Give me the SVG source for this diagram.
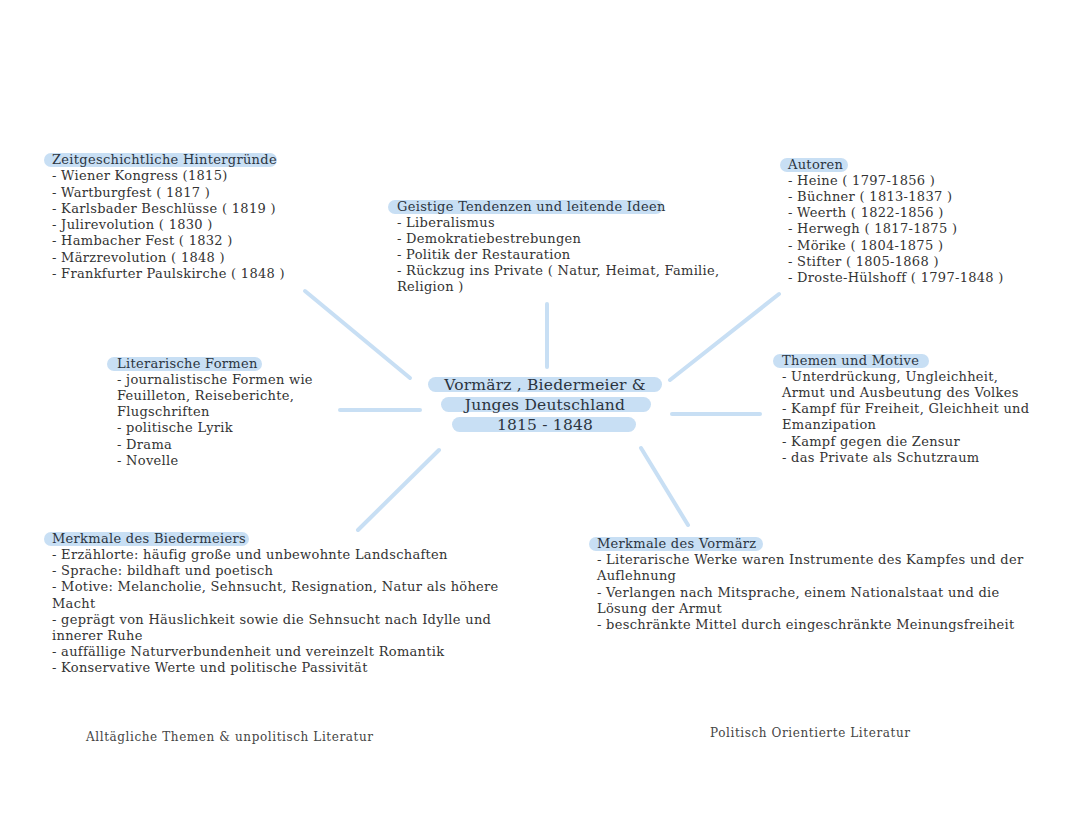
<svg xmlns="http://www.w3.org/2000/svg" width="1080" height="834" viewBox="0 0 1080 834">
<defs>
<style>
text{font-family:"DejaVu Serif","Liberation Serif",serif;font-size:13px;letter-spacing:0.3px;fill:#333}
.t{fill:#2b3440}
.c{font-size:15.5px;letter-spacing:0.2px;text-anchor:middle;fill:#2b3440}
.f{font-size:12px;letter-spacing:0.6px;fill:#444}
.hl{fill:#c8dff4}
.ln{stroke:#c8dff4;stroke-width:4;stroke-linecap:round;fill:none}
</style>
</defs>
<rect width="1080" height="834" fill="#fff"/>
<g id="connectors">
<line class="ln" x1="305" y1="291" x2="410" y2="378"/>
<line class="ln" x1="547" y1="304" x2="547" y2="367"/>
<line class="ln" x1="779" y1="294" x2="670" y2="380"/>
<line class="ln" x1="340" y1="410" x2="420" y2="410"/>
<line class="ln" x1="672" y1="414" x2="760" y2="414"/>
<line class="ln" x1="439" y1="450" x2="358" y2="530"/>
<line class="ln" x1="641" y1="448" x2="688" y2="525"/>
</g>
<g id="center">
<rect class="hl" x="428" y="377" width="234" height="15" rx="7.5"/>
<rect class="hl" x="441" y="397" width="210" height="15" rx="7.5"/>
<rect class="hl" x="452" y="417" width="184" height="15" rx="7.5"/>
<text class="c" x="545" y="390">Vormärz , Biedermeier &amp;</text>
<text class="c" x="545" y="410">Junges Deutschland</text>
<text class="c" x="545" y="430">1815 - 1848</text>
</g>
<g id="zeitgeschichte">
<rect class="hl" x="44" y="153" width="233" height="14" rx="7"/>
<text class="t" x="52" y="164">Zeitgeschichtliche Hintergründe</text>
<text x="52" y="180">- Wiener Kongress (1815)</text>
<text x="52" y="197">- Wartburgfest ( 1817 )</text>
<text x="52" y="213">- Karlsbader Beschlüsse ( 1819 )</text>
<text x="52" y="229">- Julirevolution ( 1830 )</text>
<text x="52" y="245">- Hambacher Fest ( 1832 )</text>
<text x="52" y="262">- Märzrevolution ( 1848 )</text>
<text x="52" y="278">- Frankfurter Paulskirche ( 1848 )</text>
</g>
<g id="geistige">
<rect class="hl" x="388" y="200" width="275" height="14" rx="7"/>
<text class="t" x="397" y="211">Geistige Tendenzen und leitende Ideen</text>
<text x="397" y="227">- Liberalismus</text>
<text x="397" y="243">- Demokratiebestrebungen</text>
<text x="397" y="259">- Politik der Restauration</text>
<text x="397" y="275">- Rückzug ins Private ( Natur, Heimat, Familie,</text>
<text x="397" y="291">Religion )</text>
</g>
<g id="autoren">
<rect class="hl" x="780" y="158" width="68" height="14" rx="7"/>
<text class="t" x="788" y="169">Autoren</text>
<text x="788" y="185">- Heine ( 1797-1856 )</text>
<text x="788" y="201">- Büchner ( 1813-1837 )</text>
<text x="788" y="217">- Weerth ( 1822-1856 )</text>
<text x="788" y="233">- Herwegh ( 1817-1875 )</text>
<text x="788" y="250">- Mörike ( 1804-1875 )</text>
<text x="788" y="266">- Stifter ( 1805-1868 )</text>
<text x="788" y="282">- Droste-Hülshoff ( 1797-1848 )</text>
</g>
<g id="formen">
<rect class="hl" x="107" y="357" width="155" height="14" rx="7"/>
<text class="t" x="117" y="368">Literarische Formen</text>
<text x="117" y="384">- journalistische Formen wie</text>
<text x="117" y="400">Feuilleton, Reiseberichte,</text>
<text x="117" y="416">Flugschriften</text>
<text x="117" y="432">- politische Lyrik</text>
<text x="117" y="449">- Drama</text>
<text x="117" y="465">- Novelle</text>
</g>
<g id="themen">
<rect class="hl" x="773" y="354" width="156" height="14" rx="7"/>
<text class="t" x="782" y="365">Themen und Motive</text>
<text x="782" y="381">- Unterdrückung, Ungleichheit,</text>
<text x="782" y="397">Armut und Ausbeutung des Volkes</text>
<text x="782" y="413">- Kampf für Freiheit, Gleichheit und</text>
<text x="782" y="429">Emanzipation</text>
<text x="782" y="446">- Kampf gegen die Zensur</text>
<text x="782" y="462">- das Private als Schutzraum</text>
</g>
<g id="biedermeier">
<rect class="hl" x="44" y="532" width="205" height="14" rx="7"/>
<text class="t" x="52" y="543">Merkmale des Biedermeiers</text>
<text x="52" y="559">- Erzählorte: häufig große und unbewohnte Landschaften</text>
<text x="52" y="575">- Sprache: bildhaft und poetisch</text>
<text x="52" y="591">- Motive: Melancholie, Sehnsucht, Resignation, Natur als höhere</text>
<text x="52" y="608">Macht</text>
<text x="52" y="624">- geprägt von Häuslichkeit sowie die Sehnsucht nach Idylle und</text>
<text x="52" y="640">innerer Ruhe</text>
<text x="52" y="656">- auffällige Naturverbundenheit und vereinzelt Romantik</text>
<text x="52" y="672">- Konservative Werte und politische Passivität</text>
</g>
<g id="vormaerz">
<rect class="hl" x="589" y="537" width="174" height="14" rx="7"/>
<text class="t" x="597" y="548">Merkmale des Vormärz</text>
<text x="597" y="564">- Literarische Werke waren Instrumente des Kampfes und der</text>
<text x="597" y="580">Auflehnung</text>
<text x="597" y="597">- Verlangen nach Mitsprache, einem Nationalstaat und die</text>
<text x="597" y="613">Lösung der Armut</text>
<text x="597" y="629">- beschränkte Mittel durch eingeschränkte Meinungsfreiheit</text>
</g>
<g id="footer">
<text class="f" x="86" y="741">Alltägliche Themen &amp; unpolitisch Literatur</text>
<text class="f" x="710" y="737">Politisch Orientierte Literatur</text>
</g>
</svg>
